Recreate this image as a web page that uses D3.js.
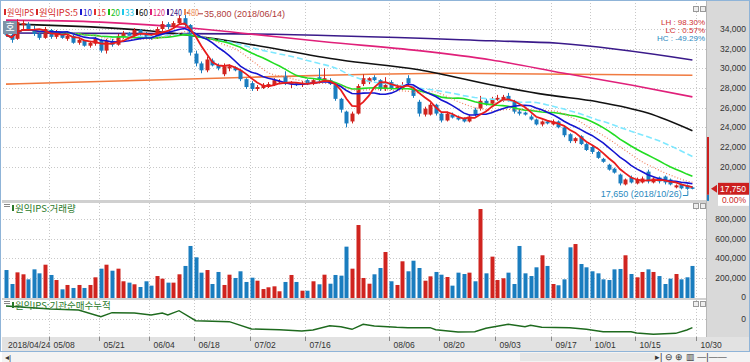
<!DOCTYPE html>
<html>
<head>
<meta charset="utf-8">
<script src="https://cdn.jsdelivr.net/npm/d3@7"></script>
<style>
body { margin: 0; background: #fff; }
svg { display: block; }
text { font-family: "Liberation Sans", Arial, sans-serif; }
.kr { font-family: "Noto Sans CJK KR", sans-serif; }
</style>
</head>
<body>
<div id="chart"></div>
<script>
// daily candles 2018/04/24 .. 2018/10/29
const opens = [34300,33400,33000,34400,34500,34000,33500,33100,33900,33200,33600,33000,33300,32600,32800,32300,32500,32900,31800,32800,32400,33200,33600,33300,33900,33500,33300,33100,34000,34500,34200,34600,35100,34400,31500,30500,29800,30800,30300,29400,30000,30100,29800,28900,28500,27900,28000,28200,28300,28600,29200,28400,28500,28300,28800,28400,29100,28700,28800,28300,26900,25600,24600,25400,28400,28600,29100,28800,27900,28600,27900,28000,29000,27900,26600,25300,25300,26300,25400,24700,25300,25000,24900,24600,25800,25900,26700,26400,26800,26800,27200,26700,25600,25500,25100,24800,24300,24600,24300,24600,24000,23300,22600,23100,22300,22000,21500,20800,20200,19800,19200,18200,18900,18300,18400,19500,18400,18900,19000,18700,17900,18200,18100,17900];
const highs = [34600,33600,35000,34900,34700,34300,33700,34200,34000,33900,33700,33500,33400,33000,32900,32800,33200,33000,33000,33000,33500,33800,33700,34100,34000,33700,33500,34200,34800,34700,34800,35400,35800,34500,31800,30700,31200,31000,30500,30500,30400,30200,29900,29000,28700,28300,28500,28600,29000,28900,29700,28700,28600,28700,28900,28900,30000,30000,29000,28400,27000,25700,25600,28400,29400,29100,29300,28900,29100,28800,28400,28600,29300,28000,26800,26100,26500,26400,25500,25600,25500,25200,25000,25300,26000,27200,26900,27100,27300,27300,27500,26800,25800,25600,25300,24900,24700,24700,24800,24700,24100,23400,23000,23200,22400,22100,21600,20900,20300,19900,19300,18800,19100,18900,19000,19700,18900,19000,19100,18800,18200,18300,18200,18000];
const lows = [33200,32600,32900,34000,33800,33300,32900,33000,33000,33000,33000,32800,32500,32400,32200,32100,32300,31600,31500,32200,32300,33000,33100,33200,33300,33000,32900,33000,33800,34000,34100,34400,34200,31300,30200,29500,29600,30200,29800,29200,29700,29700,28700,27900,27700,27700,27900,28000,28200,28400,28300,28000,28200,28100,28300,28300,28700,28600,28300,26700,25500,24000,24400,25300,28200,28400,28700,27700,27700,27800,27700,27800,28300,27000,25100,25100,25200,25200,24500,24600,24900,24700,24500,24500,25100,25700,26200,26300,26700,26600,26600,25400,25200,25200,24700,24200,24100,24300,24200,23900,23000,22400,22400,22200,21600,21300,20800,20400,19600,19300,18100,18100,18300,18200,18300,18300,18300,18300,18200,18100,17800,17700,17650,17700];
const closes = [33400,32900,34700,34600,34000,33500,33100,34000,33200,33700,33100,33300,32600,32900,32300,32600,33000,31800,32800,32400,33300,33600,33300,33900,33500,33200,33100,34000,34500,34200,34600,35100,34400,31600,30500,29800,30900,30300,30000,30200,30200,29800,28900,28100,27900,28100,28300,28400,28800,28700,28400,28500,28300,28500,28400,28800,28900,29000,28400,26900,25800,24400,25400,28200,29000,29000,28800,27900,28300,28000,28100,28300,28500,27200,25400,25900,26300,25400,24700,25400,25000,24800,24600,25100,25300,26700,26400,26900,27000,27100,26800,25600,25400,25300,24800,24300,24600,24400,24600,24000,23200,22600,22900,22300,21700,21500,20900,20500,19700,19400,18300,18700,18400,18700,18800,18500,18800,18500,18400,18200,18100,17800,17750,17750];
const volumes = [278000,134000,254000,234000,182000,285000,244000,333000,227000,175000,79000,124000,93000,124000,93000,124000,203000,292000,333000,271000,292000,162000,148000,131000,103000,162000,117000,216000,189000,148000,148000,234000,320000,526000,409000,251000,278000,134000,258000,124000,230000,196000,265000,155000,199000,168000,82000,100000,110000,59000,155000,227000,155000,65000,65000,162000,131000,230000,137000,227000,220000,519000,292000,742000,196000,137000,234000,299000,464000,162000,124000,368000,265000,374000,299000,168000,213000,258000,230000,206000,117000,251000,237000,251000,162000,907000,244000,416000,175000,193000,251000,134000,526000,244000,216000,306000,430000,320000,134000,121000,182000,512000,546000,340000,306000,265000,244000,182000,175000,285000,289000,430000,237000,203000,258000,285000,258000,216000,134000,189000,237000,182000,203000,320000];

// long moving averages (bar index, price)
const ma60Idx = [0, 26, 35, 42, 60, 74, 88, 97, 106, 115, 123];
const ma60Val = [34500, 33800, 33200, 32600, 30850, 29850, 28200, 27300, 26600, 25450, 23650];
const ma120Idx = [0, 17, 35, 42, 57, 74, 87, 100, 112, 123];
const ma120Val = [34900, 34700, 34000, 33600, 32700, 31800, 30850, 29500, 28300, 27100];
const ma240Idx = [0, 42, 87, 99, 123];
const ma240Val = [33600, 33500, 32800, 32550, 30850];
const ma480Idx = [0, 44, 80, 123];
const ma480Val = [28400, 29100, 29500, 29300];

// institutional net buying, cumulative (thousand shares)
const instIdx = [0, 8, 13, 17, 19, 23, 26, 28, 29, 31, 34, 40, 44, 49, 53, 55, 58, 60, 62, 64, 66, 70, 72, 76, 77, 81, 84, 86, 90, 93, 94, 96, 101, 104, 107, 112, 113, 116, 120, 122, 123];
const instVal = [260, 200, 180, 46, 126, 120, 80, 120, 80, 166, -34, -54, -200, -214, -240, -220, -134, -154, -206, -106, -140, -166, -174, -174, -214, -260, -254, -186, -106, -154, -126, -166, -174, -206, -254, -254, -280, -306, -286, -220, -174];

const tickIdx = [0, 8, 17, 26, 34, 44, 54, 69, 78, 88, 98, 105, 113, 124];
const tickLabels = ['2018/04/24', '05/08', '05/21', '06/04', '06/18', '07/02', '07/16', '08/06', '08/20', '09/03', '09/17', '10/01', '10/15', '10/30'];
const priceTicks = [20000, 22000, 24000, 26000, 28000, 30000, 32000, 34000];
const volTicks = [0, 200000, 400000, 600000, 800000];

const legendNames = ['원익IPS', '원익IPS:5', '10', '15', '20', '33', '60', '120', '240', '480'];
const legendColors = ['#d42a2a', '#d42a2a', '#1a1ad0', '#e03030', '#18c018', '#20c8e8', '#111111', '#e0207a', '#3a1a8a', '#f08a50'];

const W = 750, H = 362;
const UP = '#d0241f', DOWN = '#1a7dbf';

const svg = d3.select('#chart').append('svg').attr('width', W).attr('height', H);

const x = d3.scaleLinear().domain([0, 124]).range([6, 698]);
const yP = d3.scaleLinear().domain([16615, 36643]).range([200, 3]);
const yV = d3.scaleLinear().domain([0, 969000]).range([297, 203]);
const yI = d3.scaleLinear().domain([-360, 380]).range([337, 300]);

// backgrounds
svg.append('rect').attr('width', W).attr('height', H).attr('fill', '#fff');
svg.append('rect').attr('x', 707).attr('y', 0).attr('width', 43).attr('height', 337).attr('fill', '#d9d9d9');
svg.append('rect').attr('x', 2).attr('y', 337).attr('width', 748).attr('height', 14).attr('fill', '#e2e2e2');
svg.append('rect').attr('x', 2).attr('y', 351).attr('width', 748).attr('height', 11).attr('fill', '#f3f3f3');
svg.append('rect').attr('x', 520).attr('y', 353).attr('width', 135).attr('height', 8).attr('fill', '#e6e6e6');

// panel separators
[[200, 3], [298, 2]].forEach(([y0, h]) => {
    svg.append('rect').attr('x', 2).attr('y', y0).attr('width', 705).attr('height', h).attr('fill', '#d0d0d0');
});
svg.append('line').attr('x1', 706.5).attr('x2', 706.5).attr('y1', 0).attr('y2', 337).attr('stroke', '#b8b8b8');

// grid
const grid = svg.append('g').attr('stroke', '#c8c8c8').attr('stroke-dasharray', '1,2');
priceTicks.forEach((p) => {
    grid.append('line').attr('x1', 3).attr('x2', 706).attr('y1', Math.round(yP(p)) + 0.5).attr('y2', Math.round(yP(p)) + 0.5);
});
volTicks.slice(1).forEach((v) => {
    grid.append('line').attr('x1', 3).attr('x2', 706).attr('y1', Math.round(yV(v)) + 0.5).attr('y2', Math.round(yV(v)) + 0.5);
});
grid.append('line').attr('x1', 3).attr('x2', 706).attr('y1', Math.round(yI(0)) + 0.5).attr('y2', Math.round(yI(0)) + 0.5);
tickIdx.slice(1).forEach((i) => {
    const xx = Math.round(x(i) - 2) + 0.5;
    [[3, 200], [203, 298], [300, 337]].forEach(([a, b]) => {
        grid.append('line').attr('x1', xx).attr('x2', xx).attr('y1', a).attr('y2', b);
    });
});

// clip for price panel
svg.append('clipPath').attr('id', 'clipP').append('rect').attr('x', 3).attr('y', 3).attr('width', 703).attr('height', 197);
const pg = svg.append('g').attr('clip-path', 'url(#clipP)');

// long moving averages
const line = d3.line().x((d) => x(d[0])).y((d) => yP(d[1])).curve(d3.curveMonotoneX);
[[ma480Idx, ma480Val, '#f07a40'], [ma240Idx, ma240Val, '#3a1a8a'], [ma120Idx, ma120Val, '#e0207a'], [ma60Idx, ma60Val, '#111']].forEach(([ix, vals, c]) => {
    pg.append('path').datum(ix.map((d, k) => [d, vals[k]])).attr('fill', 'none').attr('stroke', c).attr('stroke-width', 1.6).attr('d', line);
});

// candles
const cg = pg.append('g');
closes.forEach((c, i) => {
    const col = c >= opens[i] ? UP : DOWN;
    const cx = Math.round(x(i));
    cg.append('line').attr('x1', cx + 0.5).attr('x2', cx + 0.5).attr('y1', yP(highs[i])).attr('y2', yP(lows[i])).attr('stroke', col);
    const top = yP(Math.max(c, opens[i])), bot = yP(Math.min(c, opens[i]));
    cg.append('rect').attr('x', cx - 1.5).attr('y', top).attr('width', 4).attr('height', Math.max(1, bot - top)).attr('fill', col);
});

// short moving averages from closes
const ma = (n) => closes.map((d, i) => [i, d3.mean(closes.slice(Math.max(0, i - n + 1), i + 1))]);
const lineL = d3.line().x((d) => x(d[0])).y((d) => yP(d[1]));
[[33, '#7ee8ff', '6,3', 1.6], [20, '#22dd22', null, 1.6], [15, '#f08060', '1,2', 1.2], [10, '#1515d0', null, 1.6], [5, '#e81c1c', null, 1.8]].forEach(([n, c, dash, w]) => {
    pg.append('path').datum(ma(n)).attr('fill', 'none').attr('stroke', c).attr('stroke-width', w).attr('stroke-dasharray', dash).attr('d', lineL);
});

// volume bars
svg.append('g').selectAll('rect').data(volumes).enter().append('rect')
    .attr('x', (d, i) => Math.round(x(i)) - 1.5)
    .attr('y', (d) => yV(d))
    .attr('width', 4)
    .attr('height', (d) => yV(0) - yV(d) + 1)
    .attr('fill', (d, i) => (closes[i] >= opens[i] ? UP : DOWN));

// institutional cumulative line
svg.append('path').datum(instIdx.map((d, k) => [d, instVal[k]])).attr('fill', 'none').attr('stroke', '#1e6a1e').attr('stroke-width', 1.4)
    .attr('d', d3.line().x((d) => x(d[0])).y((d) => yI(d[1])));

// right axis labels
const ax = svg.append('g').attr('font-size', 8.5).attr('fill', '#333').attr('text-anchor', 'end');
priceTicks.forEach((p) => ax.append('text').attr('x', 746).attr('y', yP(p) + 3).text(d3.format(',')(p)));
volTicks.forEach((v) => ax.append('text').attr('x', 746).attr('y', yV(v) + 3).text(d3.format(',')(v)));
ax.append('text').attr('x', 746).attr('y', yI(0) + 3).text('0');

// current price marker
const last = closes[closes.length - 1];
svg.append('rect').attr('x', 707).attr('y', 137).attr('width', 2).attr('height', yP(17750) - 137 + 6).attr('fill', '#cc1f1f');
svg.append('rect').attr('x', 707).attr('y', yP(17750) + 6).attr('width', 2).attr('height', 6).attr('fill', '#1a7dbf');
svg.append('path').attr('d', `M711,${yP(last)} l6,-4 v8 z`).attr('fill', '#cc1f1f');
svg.append('rect').attr('x', 718).attr('y', yP(last) - 6).attr('width', 32).attr('height', 12).attr('fill', '#cc1f1f');
svg.append('text').attr('x', 746).attr('y', yP(last) + 3).attr('text-anchor', 'end').attr('font-size', 8.5).attr('fill', '#fff').text(d3.format(',')(last));
svg.append('rect').attr('x', 718).attr('y', yP(last) + 6).attr('width', 32).attr('height', 11).attr('fill', '#fff');
svg.append('text').attr('x', 746).attr('y', yP(last) + 14.5).attr('text-anchor', 'end').attr('font-size', 8.5).attr('fill', '#cc1f1f').text('0.00%');

// x axis
const xa = svg.append('g').attr('font-size', 8.5).attr('fill', '#333');
tickIdx.forEach((i, k) => {
    const xx = Math.round(x(i) - 2) + 0.5;
    if (k > 0) xa.append('line').attr('x1', xx).attr('x2', xx).attr('y1', 337).attr('y2', 341).attr('stroke', '#888');
    xa.append('text').attr('x', k === 0 ? 8 : xx + 4).attr('y', 348).text(tickLabels[k]);
});

// legend
const legendX = [4, 36, 80, 94, 108, 122, 136, 150, 167, 184, 201];
const lg = svg.append('g').attr('font-size', 9);
legendNames.forEach((n, k) => {
    const lx = legendX[k];
    lg.append('rect').attr('x', lx).attr('y', 9).attr('width', 2).attr('height', 6).attr('fill', legendColors[k]);
    lg.append('text').attr('class', 'kr').attr('x', lx + 3).attr('y', 16).attr('fill', legendColors[k])
        .attr('textLength', legendX[k + 1] - lx - 5).attr('lengthAdjust', 'spacingAndGlyphs').text(n);
});

// max / min annotations
const iMax = highs.indexOf(d3.max(highs)), iMin = lows.indexOf(d3.min(lows));
svg.append('line').attr('x1', x(iMax) + 2).attr('x2', x(iMax) + 4).attr('y1', yP(highs[iMax]) + 1.5).attr('y2', yP(highs[iMax]) + 1.5).attr('stroke', '#b03a3a');
svg.append('line').attr('x1', 198).attr('x2', 203).attr('y1', yP(highs[iMax]) + 2.5).attr('y2', yP(highs[iMax]) + 2.5).attr('stroke', '#b03a3a');
svg.append('text').attr('x', 204).attr('y', yP(highs[iMax]) + 5.5).attr('font-size', 9).attr('fill', '#b03a3a').text('35,800 (2018/06/14)');
svg.append('text').attr('x', x(iMin) - 5).attr('y', 197).attr('text-anchor', 'end').attr('font-size', 9).attr('fill', '#2a8ac0').text('17,650 (2018/10/26)');
svg.append('path').attr('d', `M${x(iMin) - 4},195.5 h5 v-5`).attr('fill', 'none').attr('stroke', '#2a8ac0');

// range stats
const st = svg.append('g').attr('font-size', 8).attr('font-family', 'DejaVu Sans Mono, monospace');
[['LH :  98.30%', '#d03030', 24.5], ['LC :   0.57%', '#d03030', 32.5], ['HC : -49.29%', '#2a8ac0', 40.5]].forEach(([t, c, yy]) => {
    st.append('text').attr('x', 705).attr('y', yy).attr('text-anchor', 'end').attr('fill', c).text(t);
});

// panel titles
svg.append('rect').attr('x', 3).attr('y', 21).attr('width', 14).attr('height', 13).attr('fill', '#7d93a8');
svg.append('text').attr('class', 'kr').attr('x', 10).attr('y', 31).attr('text-anchor', 'middle').attr('font-size', 10).attr('fill', '#fff').text('호');
[[209, '원익IPS:거래량'], [306, '원익IPS:기관순매수누적']].forEach(([yy, t]) => {
    svg.append('rect').attr('x', 4).attr('y', yy - 5).attr('width', 6).attr('height', 1).attr('fill', '#888');
    svg.append('rect').attr('x', 4).attr('y', yy - 3).attr('width', 6).attr('height', 1).attr('fill', '#888');
    svg.append('rect').attr('x', 12).attr('y', yy - 4).attr('width', 2).attr('height', 6).attr('fill', '#2a7a2a');
    svg.append('text').attr('class', 'kr').attr('x', 15).attr('y', yy + 3).attr('font-size', 9.5).attr('fill', '#2a7a2a').text(t);
});

// small panel buttons
[6, 203, 301].forEach((yy) => {
    [693, 700].forEach((xx) => {
        svg.append('rect').attr('x', xx + 0.5).attr('y', yy + 0.5).attr('width', 5).attr('height', 5).attr('fill', '#eee').attr('stroke', '#999');
    });
});

// frame
svg.append('rect').attr('x', 0.5).attr('y', 0.5).attr('width', W - 1).attr('height', 351).attr('fill', 'none').attr('stroke', '#8fb4d8');
svg.append('text').attr('x', 5).attr('y', 360).attr('font-size', 8).attr('fill', '#333').text('◂|');
svg.append('text').attr('x', 655).attr('y', 360).attr('font-size', 9).attr('fill', '#333').text('▸| ⊖ ⊕ ▥  —|——');
</script>
</body>
</html>
